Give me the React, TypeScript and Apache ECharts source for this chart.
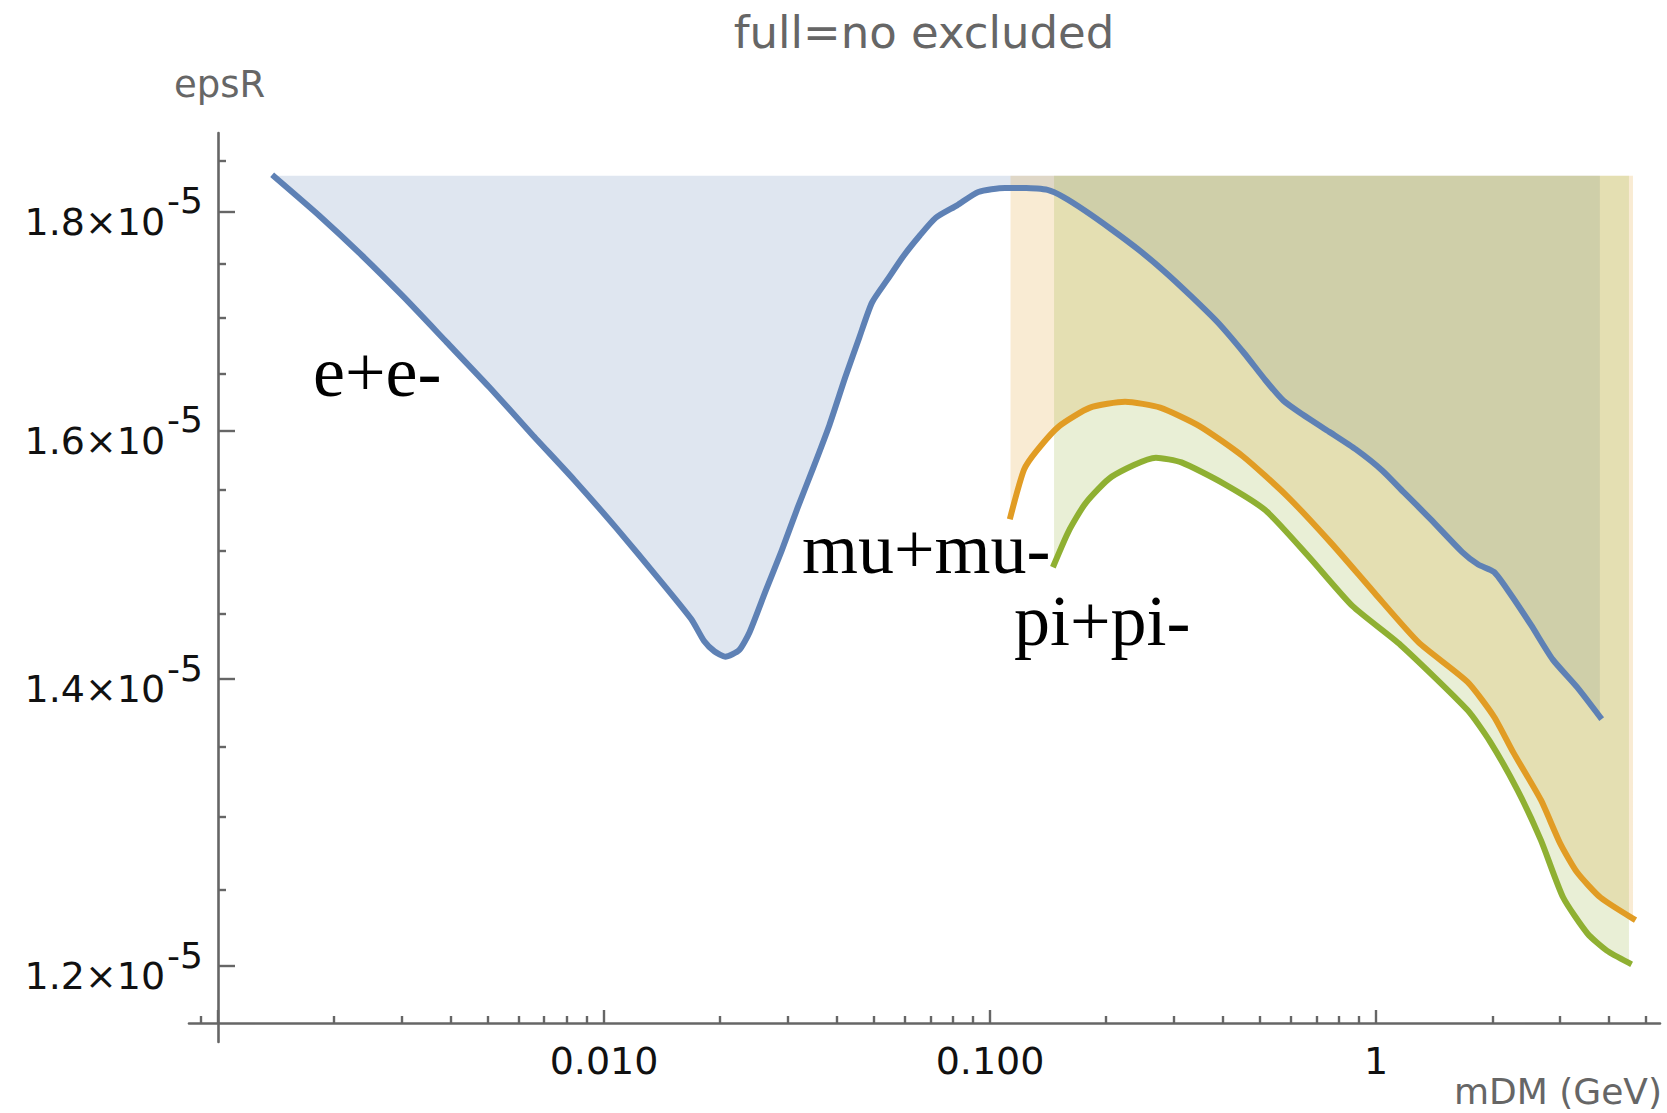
import React, { useEffect, useRef } from "react";
import * as echarts from "echarts";

// ---------- data (mDM in GeV, epsR in units of 1e-5) ----------
const eeMass = [0.0014, 0.00183, 0.00236, 0.00303, 0.00391, 0.00504, 0.0065, 0.00838, 0.01079, 0.01391, 0.01682, 0.01816, 0.01934, 0.02061, 0.02238, 0.02384, 0.02622, 0.02884, 0.03172, 0.03489, 0.03837, 0.0422, 0.04583, 0.04944, 0.05438, 0.05981, 0.06578, 0.07235, 0.08215, 0.09326, 0.1093, 0.1241, 0.1409, 0.155, 0.1759, 0.2061, 0.2415, 0.283, 0.3317, 0.3887, 0.4555, 0.517, 0.5758, 0.6454, 0.7566, 0.8866, 1.039, 1.179, 1.382, 1.672, 1.839, 2.022, 2.224, 2.525, 2.867, 3.317, 3.8];
const eeEps = [1.834, 1.796, 1.758, 1.719, 1.678, 1.638, 1.597, 1.558, 1.518, 1.477, 1.446, 1.429, 1.421, 1.417, 1.422, 1.436, 1.468, 1.5, 1.535, 1.569, 1.605, 1.647, 1.682, 1.714, 1.736, 1.758, 1.777, 1.794, 1.806, 1.819, 1.823, 1.823, 1.821, 1.814, 1.801, 1.783, 1.764, 1.743, 1.72, 1.696, 1.668, 1.644, 1.626, 1.614, 1.599, 1.584, 1.566, 1.548, 1.526, 1.499, 1.489, 1.483, 1.466, 1.441, 1.415, 1.394, 1.372];

const muMass = [0.113, 0.1225, 0.1322, 0.1511, 0.1816, 0.2238, 0.2759, 0.3488, 0.4525, 0.587, 0.7663, 0.9936, 1.289, 1.725, 2.022, 2.267, 2.673, 2.996, 3.317, 3.814, 4.63];
const muEps = [1.528, 1.567, 1.583, 1.604, 1.62, 1.625, 1.62, 1.604, 1.578, 1.545, 1.506, 1.466, 1.428, 1.398, 1.372, 1.346, 1.312, 1.282, 1.262, 1.245, 1.231];

const piMass = [0.1465, 0.1599, 0.1769, 0.2067, 0.269, 0.3132, 0.3987, 0.517, 0.6706, 0.8697, 1.157, 1.725, 1.972, 2.325, 2.673, 3.053, 3.533, 3.961, 4.52];
const piEps = [1.489, 1.516, 1.539, 1.561, 1.577, 1.573, 1.556, 1.533, 1.495, 1.456, 1.426, 1.377, 1.354, 1.319, 1.284, 1.245, 1.221, 1.21, 1.202];

const seriesNames = ["e+e-", "mu+mu-", "pi+pi-"];
const fillTop = 1.835; // top of the filled regions (×1e-5)

// axis ticks and labels
const xMajorTicks = [0.001, 0.01, 0.1, 1];
const xLabelValues = [0.01, 0.1, 1];
const xLabelTexts = ["0.010", "0.100", "1"];
const xMinorTicks = [0.0009, 0.002, 0.003, 0.004, 0.005, 0.006, 0.007, 0.008, 0.009, 0.02, 0.03, 0.04, 0.05, 0.06, 0.07, 0.08, 0.09, 0.2, 0.3, 0.4, 0.5, 0.6, 0.7, 0.8, 0.9, 2, 3, 4, 5];
const yMajorTicks = [1.2, 1.4, 1.6, 1.8];
const yMinorTicks = [1.25, 1.3, 1.35, 1.45, 1.5, 1.55, 1.65, 1.7, 1.75, 1.85];
const xRange = [0.000841, 5.44];
const yRange = [1.152, 1.8776];

const UNIT = 1e-5;
const lg = Math.log10;
const yv = (e: number) => lg(e * UNIT);

const lineColors = ["#5E81B5", "#E19C24", "#8FB032"];
const fillColors = ["rgba(94,129,181,0.2)", "rgba(225,156,36,0.2)", "rgba(143,176,50,0.2)"];

export default function App() {
  const ref = useRef<HTMLDivElement>(null);
  useEffect(() => {
    document.body.style.margin = "0";
    const chart = echarts.init(ref.current!, null, { renderer: "svg" });
    const pts = (ms: number[], es: number[]) =>
      ms.slice(0, Math.min(ms.length, es.length)).map((m, i) => [lg(m), yv(es[i])]);
    const curves = [pts(eeMass, eeEps), pts(muMass, muEps), pts(piMass, piEps)];
    const topY = yv(fillTop);
    const axisGray = "#666666";
    const tickFont = "DejaVu Sans";

    const series: any[] = [];
    curves.forEach((d, i) => {
      series.push({
        type: "line",
        name: seriesNames[i] + " excluded",
        data: d,
        xAxisIndex: 0,
        yAxisIndex: 0,
        symbol: "none",
        smooth: 0.2,
        silent: true,
        lineStyle: { width: 0, opacity: 0 },
        areaStyle: { color: fillColors[i], opacity: 1, origin: topY },
        z: 1,
      });
    });
    curves.forEach((d, i) => {
      series.push({
        type: "line",
        name: seriesNames[i],
        data: d,
        xAxisIndex: 0,
        yAxisIndex: 0,
        symbol: "none",
        smooth: 0.2,
        lineStyle: { width: 6, color: lineColors[i], cap: "square", join: "round" },
        z: 3,
      });
    });

    const xLabelMap = (v: number) => {
      let best = 0;
      xLabelValues.forEach((lv, i) => {
        if (Math.abs(lg(lv) - v) < Math.abs(lg(xLabelValues[best]) - v)) best = i;
      });
      return xLabelTexts[best];
    };

    const commonX = {
      type: "value",
      gridIndex: 0,
      position: "bottom",
      offset: -19,
      min: lg(xRange[0]),
      max: lg(xRange[1]),
      splitLine: { show: false },
    };
    const commonY = {
      type: "value",
      gridIndex: 0,
      position: "left",
      offset: -29,
      min: yv(yRange[0]),
      max: yv(yRange[1]),
      splitLine: { show: false },
    };

    chart.setOption({
      animation: false,
      backgroundColor: "#ffffff",
      grid: { left: 189, right: 7, top: 133, bottom: 71, containLabel: false, outerBoundsMode: "none" },
      xAxis: [
        {
          ...commonX,
          axisLine: { show: true, onZero: false, lineStyle: { color: axisGray, width: 2.6 } },
          axisTick: { show: true, inside: true, length: 13, customValues: xMajorTicks.map(lg), lineStyle: { color: axisGray, width: 2.4 } },
          axisLabel: {
            show: true,
            margin: 19,
            customValues: xLabelValues.map(lg),
            formatter: (v: number) => xLabelMap(v),
            fontFamily: tickFont,
            fontSize: 38,
            color: "#111",
          },
        },
        {
          ...commonX,
          axisLine: { show: false, onZero: false },
          axisTick: { show: true, inside: true, length: 7, customValues: xMinorTicks.map(lg), lineStyle: { color: axisGray, width: 2.4 } },
          axisLabel: { show: false },
        },
      ],
      yAxis: [
        {
          ...commonY,
          axisLine: { show: true, onZero: false, lineStyle: { color: axisGray, width: 2.6 } },
          axisTick: { show: true, inside: true, length: 17, customValues: yMajorTicks.map(yv), lineStyle: { color: axisGray, width: 2.4 } },
          axisLabel: {
            show: true,
            margin: 15,
            customValues: yMajorTicks.map(yv),
            formatter: (v: number) => {
              const mant = (Math.pow(10, v) / UNIT).toFixed(1);
              return "{b|" + mant + "×10}{s|-5}";
            },
            rich: {
              b: { fontFamily: tickFont, fontSize: 38, color: "#111", verticalAlign: "bottom" },
              s: { fontFamily: tickFont, fontSize: 36, color: "#111", verticalAlign: "top", padding: [0, 0, 22, 2] },
            },
          },
        },
        {
          ...commonY,
          axisLine: { show: false, onZero: false },
          axisTick: { show: true, inside: true, length: 8, customValues: yMinorTicks.map(yv), lineStyle: { color: axisGray, width: 2.4 } },
          axisLabel: { show: false },
        },
      ],
      series,
      graphic: [
        {
          type: "text",
          x: 924,
          y: 32,
          z: 10,
          style: { text: "full=no excluded", align: "center", verticalAlign: "middle", fontFamily: "DejaVu Sans", fontSize: 45, fill: "#666" },
        },
        {
          type: "text",
          x: 219.5,
          y: 84,
          z: 10,
          style: { text: "epsR", align: "center", verticalAlign: "middle", fontFamily: "DejaVu Sans", fontSize: 37, fill: "#666" },
        },
        {
          type: "text",
          x: 1662,
          y: 1091,
          z: 10,
          style: { text: "mDM (GeV)", align: "right", verticalAlign: "middle", fontFamily: "DejaVu Sans", fontSize: 36, fill: "#666" },
        },
        {
          type: "text",
          x: 313,
          y: 372,
          z: 10,
          style: { text: seriesNames[0], align: "left", verticalAlign: "middle", fontFamily: "Liberation Serif", fontSize: 72, fill: "#000" },
        },
        {
          type: "text",
          x: 802,
          y: 549,
          z: 10,
          style: { text: seriesNames[1], align: "left", verticalAlign: "middle", fontFamily: "Liberation Serif", fontSize: 72, fill: "#000" },
        },
        {
          type: "text",
          x: 1014,
          y: 621,
          z: 10,
          style: { text: seriesNames[2], align: "left", verticalAlign: "middle", fontFamily: "Liberation Serif", fontSize: 72, fill: "#000" },
        },
      ],
    });
    return () => chart.dispose();
  }, []);
  return <div ref={ref} style={{ width: 1667, height: 1113, overflow: "hidden" }} />;
}
